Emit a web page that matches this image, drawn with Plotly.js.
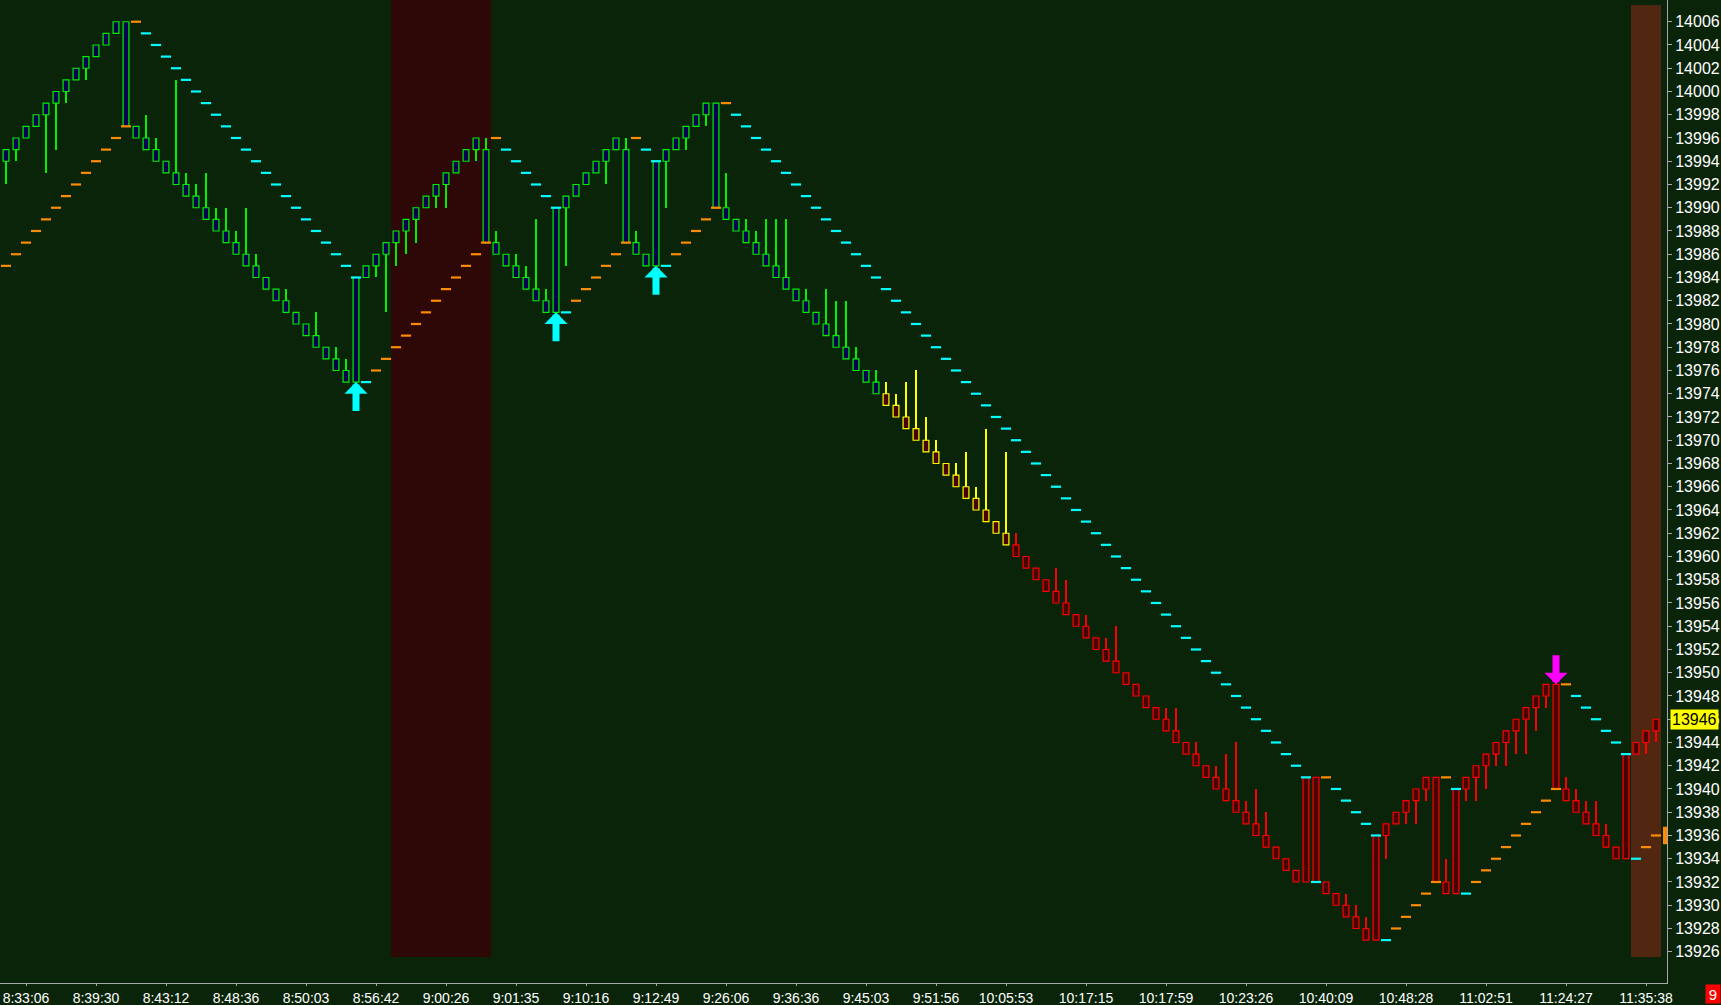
<!DOCTYPE html>
<html><head><meta charset="utf-8">
<script src="https://cdn.plot.ly/plotly-3.0.1.min.js"></script>
<style>html,body{margin:0;padding:0;background:#0a240a;}#chart{width:1721px;height:1005px;}</style>
</head><body><div id="chart"></div>
<script>
// ---- data (renko bricks, 1 point each) ----
const openPx = [
 13994,13995,13996,13997,13998,13999,14000,14001,14002,14003,
 14004,14005,14006,13997,13996,13995,13994,13993,13992,13991,
 13990,13989,13988,13987,13986,13985,13984,13983,13982,13981,
 13980,13979,13978,13977,13976,13975,13984,13985,13986,13987,
 13988,13989,13990,13991,13992,13993,13994,13995,13995,13987,
 13986,13985,13984,13983,13982,13981,13990,13991,13992,13993,
 13994,13995,13995,13987,13986,13985,13994,13995,13996,13997,
 13998,13999,13990,13989,13988,13987,13986,13985,13984,13983,
 13982,13981,13980,13979,13978,13977,13976,13975,13974,13973,
 13972,13971,13970,13969,13968,13967,13966,13965,13964,13963,
 13962,13961,13960,13959,13958,13957,13956,13955,13954,13953,
 13952,13951,13950,13949,13948,13947,13946,13945,13944,13943,
 13942,13941,13940,13939,13938,13937,13936,13935,13934,13933,
 13932,13941,13932,13931,13930,13929,13928,13927,13936,13937,
 13938,13939,13940,13941,13932,13931,13940,13941,13942,13943,
 13944,13945,13946,13947,13948,13949,13940,13939,13938,13937,
 13936,13935,13934,13943,13944,13945];
const closePx = [
 13995,13996,13997,13998,13999,14000,14001,14002,14003,14004,
 14005,14006,13997,13996,13995,13994,13993,13992,13991,13990,
 13989,13988,13987,13986,13985,13984,13983,13982,13981,13980,
 13979,13978,13977,13976,13975,13984,13985,13986,13987,13988,
 13989,13990,13991,13992,13993,13994,13995,13996,13987,13986,
 13985,13984,13983,13982,13981,13990,13991,13992,13993,13994,
 13995,13996,13987,13986,13985,13994,13995,13996,13997,13998,
 13999,13990,13989,13988,13987,13986,13985,13984,13983,13982,
 13981,13980,13979,13978,13977,13976,13975,13974,13973,13972,
 13971,13970,13969,13968,13967,13966,13965,13964,13963,13962,
 13961,13960,13959,13958,13957,13956,13955,13954,13953,13952,
 13951,13950,13949,13948,13947,13946,13945,13944,13943,13942,
 13941,13940,13939,13938,13937,13936,13935,13934,13933,13932,
 13941,13932,13931,13930,13929,13928,13927,13936,13937,13938,
 13939,13940,13941,13932,13931,13940,13941,13942,13943,13944,
 13945,13946,13947,13948,13949,13940,13939,13938,13937,13936,
 13935,13934,13943,13944,13945,13946];
const highPx = [
 13995,13996,13997,13998,13999,14000,14001,14002,14003,14004,
 14005,14006,14006,13997,13998,13996,13994,14001,13993,13992,
 13993,13990,13990,13988,13990,13986,13984,13983,13983,13981,
 13980,13981,13978,13978,13977,13984,13985,13986,13987,13988,
 13989,13990,13991,13992,13993,13994,13995,13996,13996,13988,
 13986,13986,13985,13989,13983,13990,13991,13992,13993,13994,
 13995,13996,13996,13988,13986,13994,13995,13996,13997,13998,
 13999,13999,13993,13989,13989,13988,13989,13989,13989,13983,
 13983,13981,13983,13982,13982,13978,13976,13976,13975,13974,
 13975,13976,13972,13970,13968,13968,13969,13966,13971,13963,
 13969,13962,13960,13959,13958,13959,13958,13955,13955,13953,
 13953,13954,13950,13949,13948,13947,13947,13947,13944,13944,
 13942,13942,13943,13944,13939,13940,13938,13935,13934,13933,
 13941,13941,13932,13931,13931,13930,13929,13936,13937,13938,
 13939,13940,13941,13941,13934,13940,13941,13942,13943,13944,
 13945,13946,13947,13948,13949,13949,13941,13940,13939,13939,
 13937,13935,13943,13944,13945,13946];
const lowPx = [
 13992,13994,13996,13997,13993,13995,13999,14001,14001,14003,
 14004,14005,13997,13996,13995,13994,13993,13992,13991,13990,
 13989,13988,13987,13986,13985,13984,13983,13982,13981,13980,
 13979,13978,13977,13976,13975,13975,13984,13984,13981,13985,
 13986,13987,13990,13990,13990,13993,13994,13994,13987,13986,
 13985,13984,13983,13982,13981,13981,13985,13991,13992,13993,
 13992,13995,13987,13986,13985,13985,13990,13995,13995,13997,
 13997,13990,13989,13988,13987,13986,13985,13984,13983,13982,
 13981,13980,13979,13978,13977,13976,13975,13974,13973,13972,
 13971,13970,13969,13968,13967,13966,13965,13964,13963,13962,
 13961,13960,13959,13958,13957,13956,13955,13954,13953,13952,
 13951,13950,13949,13948,13947,13946,13945,13944,13943,13942,
 13941,13940,13939,13938,13937,13936,13935,13934,13933,13932,
 13932,13932,13931,13930,13929,13928,13927,13927,13934,13937,
 13937,13937,13939,13932,13931,13931,13939,13939,13940,13942,
 13942,13943,13943,13945,13947,13940,13939,13938,13937,13936,
 13935,13934,13934,13943,13943,13944];
// trailing stop dash per bar
const stopPx = [
 13985,13986,13987,13988,13989,13990,13991,13992,13993,13994,
 13995,13996,13997,14006,14005,14004,14003,14002,14001,14000,
 13999,13998,13997,13996,13995,13994,13993,13992,13991,13990,
 13989,13988,13987,13986,13985,13984,13975,13976,13977,13978,
 13979,13980,13981,13982,13983,13984,13985,13986,13987,13996,
 13995,13994,13993,13992,13991,13990,13981,13982,13983,13984,
 13985,13986,13987,13996,13995,13994,13985,13986,13987,13988,
 13989,13990,13999,13998,13997,13996,13995,13994,13993,13992,
 13991,13990,13989,13988,13987,13986,13985,13984,13983,13982,
 13981,13980,13979,13978,13977,13976,13975,13974,13973,13972,
 13971,13970,13969,13968,13967,13966,13965,13964,13963,13962,
 13961,13960,13959,13958,13957,13956,13955,13954,13953,13952,
 13951,13950,13949,13948,13947,13946,13945,13944,13943,13942,
 13941,13932,13941,13940,13939,13938,13937,13936,13927,13928,
 13929,13930,13931,13932,13941,13940,13931,13932,13933,13934,
 13935,13936,13937,13938,13939,13940,13949,13948,13947,13946,
 13945,13944,13943,13934,13935,13936];
// O = orange (long stop), C = cyan (short stop)
const stopSide = [
 "OOOOOOOOOO","OOOOCCCCCC","CCCCCCCCCC","CCCCCCCOOO","OOOOOOOOOO",
 "CCCCCCCOOO","OOOOCCCOOO","OOOCCCCCCC","CCCCCCCCCC","CCCCCCCCCC",
 "CCCCCCCCCC","CCCCCCCCCC","CCCCCCCCCC","CCOCCCCCCO","OOOOOCCOOO",
 "OOOOOOOCCC","CCCCOO"].join('').split('');
// colour groups by bar range
const greenBars = [0, 87];
const yellowBars = [88, 100];
const redBars = [101, 165];
// signal arrows
const upArrowBars = [35, 55, 65];
const downArrowBars = [155];
// shaded zones (bar ranges)
const redZone = [39, 48];
const brownZone = [163, 165];
// time axis
const tickBars = [2,9,16,23,30,37,44,51,58,65,72,79,86,93,100,108,116,124,132,140,148,156,164];
const tickLabels = ['8:33:06','8:39:30','8:43:12','8:48:36','8:50:03','8:56:42','9:00:26','9:01:35',
 '9:10:16','9:12:49','9:26:06','9:36:36','9:45:03','9:51:56','10:05:53','10:17:15','10:17:59',
 '10:23:26','10:40:09','10:48:28','11:02:51','11:24:27','11:35:38'];
const priceTicks = [13926,13928,13930,13932,13934,13936,13938,13940,13942,13944,13946,13948,13950,
 13952,13954,13956,13958,13960,13962,13964,13966,13968,13970,13972,13974,13976,13978,13980,13982,
 13984,13986,13988,13990,13992,13994,13996,13998,14000,14002,14004,14006,14008];

// ---- styling ----
const BG = '#0a240a';
const COL = {
  G: {line:'#00f000', fill:'#000050'},
  Y: {line:'#ffff00', fill:'#480000'},
  R: {line:'#ff0000', fill:'#480000'}
};
const idx = openPx.map((_, i) => i);
const groupOf = i => (i >= redBars[0] ? 'R' : (i >= yellowBars[0] ? 'Y' : 'G'));
const lineCols = idx.map(i => COL[groupOf(i)].line);
const fillCols = idx.map(i => COL[groupOf(i)].fill);

const wicks = {
  type:'bar', x: idx, base: lowPx, y: idx.map(i => highPx[i] - lowPx[i]),
  width: 0.2, marker:{color: lineCols, line:{width:0}}, hoverinfo:'skip', showlegend:false
};
const bodies = {
  type:'bar', x: idx, base: idx.map(i => Math.min(openPx[i], closePx[i])),
  y: idx.map(i => Math.abs(closePx[i] - openPx[i])),
  width: 0.58, marker:{color: fillCols, line:{color: lineCols, width:1.2}},
  hoverinfo:'skip', showlegend:false
};
const stops = {
  type:'scatter', mode:'markers', x: idx, y: stopPx,
  marker:{symbol:'line-ew', size:7.2, line:{width:2.2, color: stopSide.map(s => s === 'O' ? '#ff8c00' : '#00ffff')}},
  hoverinfo:'skip', showlegend:false
};

const yMin = 13923.31, yMax = 14007.87;
const lastClose = closePx[closePx.length - 1];
const lastStop = stopPx[stopPx.length - 1];

const shapes = [
  {type:'rect', layer:'below', xref:'x', yref:'y', x0: redZone[0]-0.5, x1: redZone[1]+0.5,
   y0: 13925.55, y1: yMax, fillcolor:'#2e0707', line:{width:0}},
  {type:'rect', layer:'below', xref:'x', yref:'y', x0: brownZone[0]-0.5, x1: brownZone[1]+0.5,
   y0: 13925.55, y1: 14007.45, fillcolor:'#522712', line:{width:0}},
  {type:'rect', layer:'above', xref:'paper', yref:'y', x0: 0.9976, x1: 1.0,
   y0: lastStop-0.75, y1: lastStop+0.75, fillcolor:'#ff8c00', line:{width:0}}
];

const annotations = [];
upArrowBars.forEach(i => annotations.push({
  x:i, y:lowPx[i], xref:'x', yref:'y', ax:0, ay:31, text:' ', font:{size:1},
  showarrow:true, arrowhead:1, arrowsize:0.55, arrowwidth:7, arrowcolor:'#00ffff', standoff:0
}));
downArrowBars.forEach(i => annotations.push({
  x:i, y:highPx[i], xref:'x', yref:'y', ax:0, ay:-31, text:' ', font:{size:1},
  showarrow:true, arrowhead:1, arrowsize:0.55, arrowwidth:7, arrowcolor:'#ff00ff', standoff:0
}));
annotations.push({
  xref:'paper', yref:'y', x:1, y:lastClose, xanchor:'left', yanchor:'middle', xshift:3,
  text:String(lastClose), showarrow:false, bgcolor:'#ffff00', borderpad:1,
  font:{family:'Liberation Sans, Arial', size:16, color:'#000000'}
});
annotations.push({
  xref:'paper', yref:'paper', x:1, y:0, xanchor:'center', yanchor:'middle', xshift:46, yshift:-11,
  text:'9', showarrow:false, bgcolor:'#ff0000', width:14, height:18, borderpad:0,
  font:{family:'Liberation Sans, Arial', size:15, color:'#ffffff'}
});

const yFont = {family:'Liberation Sans, Arial', size:16, color:'#ffffff'};
const xFont = {family:'Liberation Sans, Arial', size:14, color:'#ffffff'};
const layout = {
  width:1721, height:1005,
  margin:{l:0, r:54, t:0, b:22, pad:0},
  paper_bgcolor: BG, plot_bgcolor: BG,
  barmode:'overlay', bargap:0,
  showlegend:false,
  xaxis:{range:[-0.6, 166.1], showgrid:false, zeroline:false, showline:true, linecolor:'#a8a8a8', linewidth:1,
         ticks:'outside', ticklen:2, tickcolor:'#a8a8a8', tickvals: tickBars, ticktext: tickLabels,
         tickfont: xFont, tickangle:0, fixedrange:true},
  yaxis:{range:[yMin, yMax], side:'right', showgrid:false, zeroline:false, showline:true, linecolor:'#a8a8a8',
         linewidth:1, ticks:'outside', ticklen:4, tickcolor:'#a8a8a8', tickvals: priceTicks,
         ticktext: priceTicks.map(String), tickfont: yFont, fixedrange:true},
  shapes: shapes, annotations: annotations
};
Plotly.newPlot('chart', [wicks, bodies, stops], layout, {staticPlot:true, displayModeBar:false});
</script>
</body></html>
